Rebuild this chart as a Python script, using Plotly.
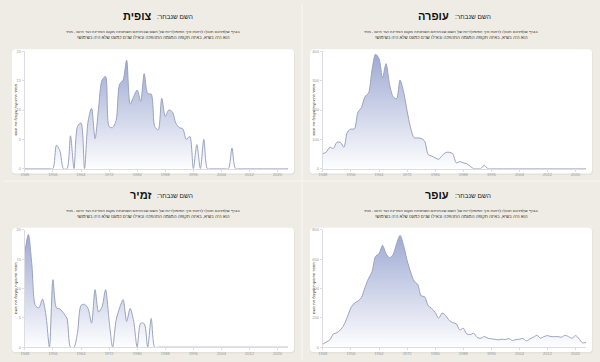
import plotly.graph_objects as go

years = list(range(1948, 2024))
x_ticks = [1948, 1956, 1964, 1972, 1980, 1988, 1996, 2004, 2012, 2020]

names = ["צופית", "עופרה", "זמיר", "עופר"]

tsofit = [0, 0, 0, 0, 0, 0, 0, 0, 0, 4.0, 3.0, 0, 0, 5.6, 0, 7.2, 7.8, 0, 8.0, 10.3,
          5.1, 10.3, 15.1, 15.7, 7.2, 7.0, 8.2, 14.4, 15.1, 18.5, 11.0, 12.3, 13.4, 11.5, 16.2, 12.8,
          12.7, 7.2, 6.6, 12.0, 8.9, 10.0, 9.7, 7.8, 7.0, 6.8, 5.0, 5.5, 0, 4.1, 0, 5.0,
          0, 0, 0, 0, 0, 0, 0, 3.5] + [0] * 16

ofra = [51, 57, 73, 69, 90, 90, 73, 125, 135, 136, 193, 208, 246, 257, 336, 390, 375, 310,
        358, 287, 246, 238, 302, 262, 197, 139, 105, 105, 103, 94, 48, 43, 37, 32, 45, 55,
        56, 51, 20, 24, 20, 17, 8, 0, 0, 0, 12, 0] + [0] * 28

zamir = [16.2, 19.2, 14.0, 7.1, 6.7, 8.2, 5.5, 0, 11.5, 6.7, 6.5, 5.8, 4.9, 0, 0, 2.5,
         7.1, 7.3, 6.6, 4.1, 9.8, 6.0, 6.9, 9.8, 4.6, 0, 4.6, 6.7, 8.1, 4.4, 6.6, 4.4, 0,
         4.1, 4.0, 0, 4.9] + [0] * 39

ofer = [20, 36, 50, 90, 99, 118, 151, 208, 269, 301, 314, 339, 407, 468, 513, 619, 637,
        694, 637, 610, 631, 705, 762, 694, 592, 513, 450, 429, 350, 344, 283, 264, 237, 197,
        233, 215, 183, 167, 160, 118, 129, 90, 86, 95, 66, 61, 72, 61, 57, 54, 50, 54, 52,
        59, 45, 52, 54, 59, 43, 57, 68, 81, 61, 72, 79, 72, 72, 72, 68, 81, 72, 61, 79, 57,
        29, 34]

series = [tsofit, ofra, zamir, ofer]
y_tops = [20, 400, 20, 800]

title_prefix = "השם שנבחר:\u200f"
sub1 = "בגרף שלפניכם תוכלו לראות איך הפופולריות של השם שבחרתם השתנתה מקום המדינה ועד היום - מתי"
sub2 = "\u200fהוא היה בשיא, באיזה תקופה המגמה התהפכה ובאילו שנים כמעט שלא היה בשימוש!\u200f"
y_title = "מספר התינוקות שקיבלו את השם"

W, H = 600, 362
FONT = "Liberation Sans, Arial, DejaVu Sans, sans-serif"

fig = go.Figure()
shapes = []
annotations = []

origins = [(0, 0), (300, 0), (0, 181), (300, 181)]


def px(x):
    return x / W


def py(y):
    return 1 - y / H


def rrect(x0, y0, x1, y1, r):
    X0, X1 = px(x0), px(x1)
    Y0, Y1 = py(y0), py(y1)
    rx, ry = r / W, r / H
    return (f"M {X0+rx},{Y0} L {X1-rx},{Y0} Q {X1},{Y0} {X1},{Y0-ry} "
            f"L {X1},{Y1+ry} Q {X1},{Y1} {X1-rx},{Y1} L {X0+rx},{Y1} "
            f"Q {X0},{Y1} {X0},{Y1+ry} L {X0},{Y0-ry} Q {X0},{Y0} {X0+rx},{Y0} Z")


for k, (ox, oy) in enumerate(origins):
    shapes.append(dict(type="path", xref="paper", yref="paper",
                       path=rrect(ox + 8, oy + 48, ox + 293, oy + 174.5, 4),
                       fillcolor="#e4e2da", line=dict(width=0), layer="below"))
    shapes.append(dict(type="path", xref="paper", yref="paper",
                       path=rrect(ox + 8, oy + 47, ox + 292, oy + 173, 4),
                       fillcolor="#ffffff", line=dict(width=0), layer="below"))

    xa = "x" if k == 0 else f"x{k+1}"
    ya = "y" if k == 0 else f"y{k+1}"
    vals = series[k]
    fig.add_trace(go.Scatter(
        x=years, y=vals, xaxis=xa, yaxis=ya, mode="lines",
        line=dict(color="#9aa2bf", width=1, shape="spline", smoothing=0.8),
        fill="tozeroy",
        fillgradient=dict(type="vertical",
                          colorscale=[[0, "rgba(255,255,255,1)"], [1, "#9eaad3"]],
                          start=0, stop=max(vals)),
        hoverinfo="skip", showlegend=False))

    layout_x = "xaxis" if k == 0 else f"xaxis{k+1}"
    layout_y = "yaxis" if k == 0 else f"yaxis{k+1}"
    top = y_tops[k]
    fig.update_layout(**{
        layout_x: dict(domain=[px(ox + 21), px(ox + 286)], anchor=ya,
                       range=[1948, 2023], tickvals=x_ticks, showgrid=False,
                       zeroline=False, showline=True, linecolor="#dcdce2", linewidth=1,
                       ticks="outside", ticklen=2, tickcolor="#dcdce2",
                       tickfont=dict(size=4, color="#999", family=FONT)),
        layout_y: dict(domain=[py(oy + 168), py(oy + 49)], anchor=xa,
                       range=[0, top], tickvals=[0, top / 4, top / 2, 3 * top / 4, top],
                       showgrid=False, zeroline=False, showline=True,
                       linecolor="#dcdce2", linewidth=1, ticks="outside", ticklen=2,
                       tickcolor="#dcdce2",
                       tickfont=dict(size=4, color="#999", family=FONT)),
    })

    annotations.append(dict(xref="paper", yref="paper", x=px(ox + 150), y=py(oy + 13.5),
                            text=f"<b>{names[k]}</b>", showarrow=False,
                            xanchor="right", yanchor="middle",
                            font=dict(size=11, color="#111", family=FONT)))
    annotations.append(dict(xref="paper", yref="paper", x=px(ox + 152), y=py(oy + 14),
                            text=title_prefix, showarrow=False,
                            xanchor="left", yanchor="middle",
                            font=dict(size=6.5, color="#222", family=FONT)))
    annotations.append(dict(xref="paper", yref="paper", x=px(ox + 150), y=py(oy + 29),
                            text=sub1, showarrow=False, xanchor="center", yanchor="middle",
                            font=dict(size=4.1, color="#333", family=FONT)))
    annotations.append(dict(xref="paper", yref="paper", x=px(ox + 150), y=py(oy + 35),
                            text=sub2, showarrow=False, xanchor="center", yanchor="middle",
                            font=dict(size=4.4, color="#333", family=FONT)))
    annotations.append(dict(xref="paper", yref="paper", x=px(ox + 12), y=py(oy + 108),
                            text=y_title, showarrow=False, textangle=-90,
                            xanchor="center", yanchor="middle",
                            font=dict(size=3.8, color="#333", family=FONT)))

shapes.append(dict(type="line", xref="paper", yref="paper", x0=px(300), x1=px(300),
                   y0=0, y1=1, line=dict(color="#f8f7f3", width=1), layer="below"))
shapes.append(dict(type="line", xref="paper", yref="paper", x0=0, x1=1,
                   y0=py(180.5), y1=py(180.5), line=dict(color="#f8f7f3", width=1),
                   layer="below"))

fig.update_layout(width=W, height=H, margin=dict(l=0, r=0, t=0, b=0),
                  paper_bgcolor="#eeece5", plot_bgcolor="rgba(0,0,0,0)",
                  shapes=shapes, annotations=annotations, showlegend=False)

fig.write_html("out.html", config={"displayModeBar": False},
               post_script="document.body.style.margin='0';document.body.style.padding='0';"
                           "document.body.style.overflow='hidden';")
